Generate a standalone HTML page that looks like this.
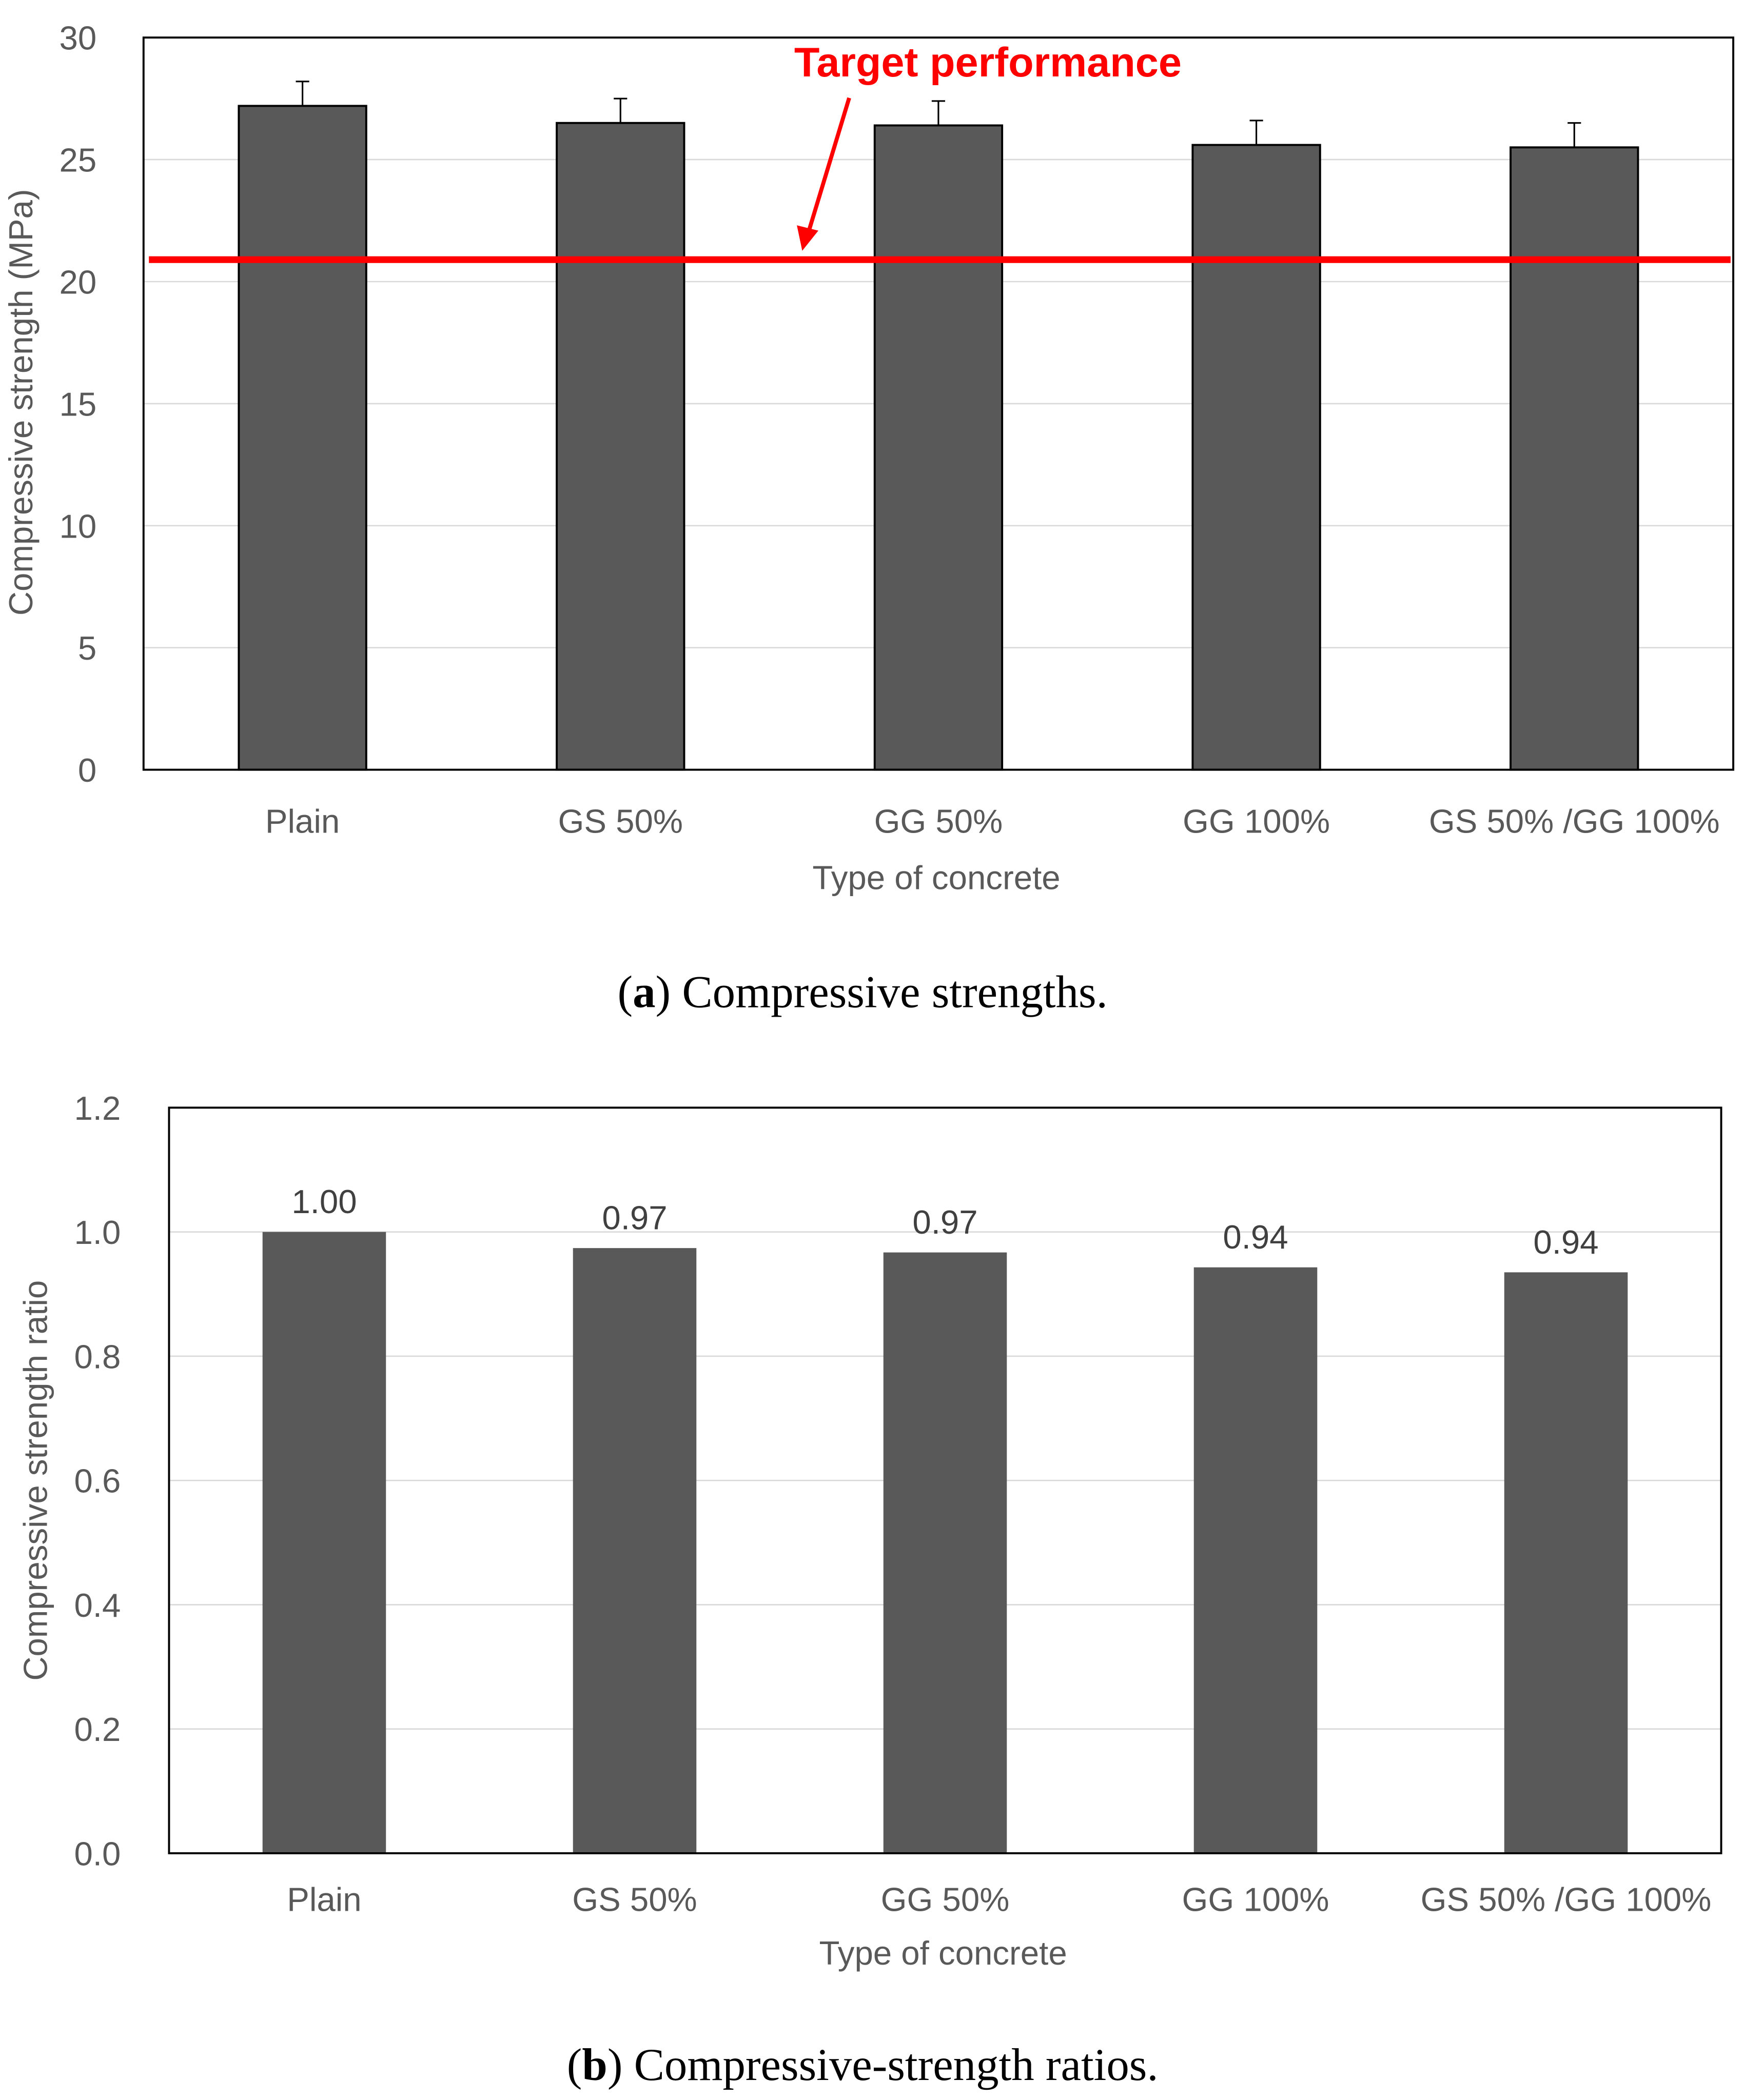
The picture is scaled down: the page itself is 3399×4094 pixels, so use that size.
<!DOCTYPE html>
<html><head><meta charset="utf-8"><style>html,body{margin:0;padding:0;background:#fff}svg{display:block}</style></head>
<body>
<svg id="s" width="3399" height="4094" viewBox="0 0 1300 1566" preserveAspectRatio="none" xmlns="http://www.w3.org/2000/svg" font-family="Liberation Sans, DejaVu Sans, sans-serif">
<g id="ga"></g>
<g id="gb"></g>
</svg>
<script>
const categories=["Plain","GS 50%","GG 50%","GG 100%","GS 50% /GG 100%"];
const strengthValues=[27.2,26.5,26.4,25.6,25.5];
const strengthErrors=[1.0,1.0,1.0,1.0,1.0];
const targetValue=20.9;
const ticksA=[0,5,10,15,20,25,30];
const ratioValues=[1.00,0.974,0.967,0.943,0.935];
const ratioLabels=["1.00","0.97","0.97","0.94","0.94"];
const ticksB=["0.0","0.2","0.4","0.6","0.8","1.0","1.2"];
const NS="http://www.w3.org/2000/svg";
function mk(p,t,a,txt){const e=document.createElementNS(NS,t);for(const k in a)e.setAttribute(k,a[k]);if(txt!==undefined)e.textContent=txt;p.appendChild(e);return e;}
// Chart A
const ga=document.getElementById('ga');
const ax={x0:107,x1:1292,y0:574,y1:28,max:30};
const yA=v=>ax.y0-(v/ax.max)*(ax.y0-ax.y1);
const xA=i=>ax.x0+(ax.x1-ax.x0)*(i+0.5)/categories.length;
ticksA.forEach(t=>{
 if(t>0&&t<30){let g=mk(ga,'line',{x1:ax.x0,x2:ax.x1,y1:yA(t),y2:yA(t),stroke:'#d9d9d9','stroke-width':1});}
 let l=mk(ga,'text',{x:72,y:yA(t)+9,'text-anchor':'end','font-size':25,fill:'#595959'},String(t));
 
});
categories.forEach((c,i)=>{
 const cx=xA(i),v=strengthValues[i],e=strengthErrors[i];
 let b=mk(ga,'rect',{x:cx-47.5,y:yA(v),width:95,height:ax.y0-yA(v),fill:'#595959',stroke:'#000','stroke-width':1.5});
 
 let eb=mk(ga,'path',{d:`M${cx} ${yA(v)} V${yA(v+e)} M${cx-5} ${yA(v+e)} H${cx+5}`,stroke:'#000','stroke-width':1.2,fill:'none'});
 
 let t=mk(ga,'text',{x:cx,y:621,'text-anchor':'middle','font-size':25,fill:'#595959'},c);
 
});
let fa=mk(ga,'rect',{x:ax.x0,y:ax.y1,width:ax.x1-ax.x0,height:ax.y0-ax.y1,fill:'none',stroke:'#000','stroke-width':1.5});

let tl=mk(ga,'line',{x1:111,x2:1290,y1:yA(targetValue),y2:yA(targetValue),stroke:'#ff0000','stroke-width':5});

let ar=mk(ga,'line',{x1:633,y1:73,x2:603,y2:172,stroke:'#ff0000','stroke-width':3});

let ah=mk(ga,'polygon',{points:'598,187 594,168 610,172',fill:'#ff0000'});

let tt=mk(ga,'text',{x:592,y:57,'font-size':31,'font-weight':'bold',fill:'#ff0000'},'Target  performance');

let xa=mk(ga,'text',{x:698,y:663,'text-anchor':'middle','font-size':25,fill:'#595959'},'Type of concrete');

let ya=mk(ga,'text',{x:0,y:0,transform:'translate(24,300) rotate(-90)','text-anchor':'middle','font-size':25,fill:'#595959'},'Compressive strength (MPa)');

let ca=mk(ga,'text',{x:643,y:751,'text-anchor':'middle','font-size':34,'font-family':'Liberation Serif, serif',fill:'#000'});
ca.innerHTML='(<tspan font-weight="bold">a</tspan>) Compressive strengths.';

// Chart B
const gb=document.getElementById('gb');
const bx={x0:126,x1:1283,y0:1382,y1:826,max:1.2};
const yB=v=>bx.y0-(v/bx.max)*(bx.y0-bx.y1);
const xB=i=>bx.x0+(bx.x1-bx.x0)*(i+0.5)/categories.length;
ticksB.forEach(s=>{
 const t=parseFloat(s);
 if(t>0&&t<1.2){let g=mk(gb,'line',{x1:bx.x0,x2:bx.x1,y1:yB(t),y2:yB(t),stroke:'#d9d9d9','stroke-width':1});}
 let l=mk(gb,'text',{x:90,y:yB(t)+9,'text-anchor':'end','font-size':25,fill:'#595959'},s);
 
});
categories.forEach((c,i)=>{
 const cx=xB(i),v=ratioValues[i];
 let b=mk(gb,'rect',{x:cx-46,y:yB(v),width:92,height:bx.y0-yB(v),fill:'#595959'});
 
 let vl=mk(gb,'text',{x:cx,y:yB(v)-14,'text-anchor':'middle','font-size':25,fill:'#404040'},ratioLabels[i]);
 
 let t=mk(gb,'text',{x:cx,y:1425,'text-anchor':'middle','font-size':25,fill:'#595959'},c);
 
});
let fb=mk(gb,'rect',{x:bx.x0,y:bx.y1,width:bx.x1-bx.x0,height:bx.y0-bx.y1,fill:'none',stroke:'#000','stroke-width':1.5});

let xb=mk(gb,'text',{x:703,y:1465,'text-anchor':'middle','font-size':25,fill:'#595959'},'Type of concrete');

let yb=mk(gb,'text',{x:0,y:0,transform:'translate(35,1104) rotate(-90)','text-anchor':'middle','font-size':25,fill:'#595959'},'Compressive strength ratio');

let cb=mk(gb,'text',{x:643,y:1551,'text-anchor':'middle','font-size':34,'font-family':'Liberation Serif, serif',fill:'#000'});
cb.innerHTML='(<tspan font-weight="bold">b</tspan>) Compressive-strength ratios.';

</script>
</body></html>
